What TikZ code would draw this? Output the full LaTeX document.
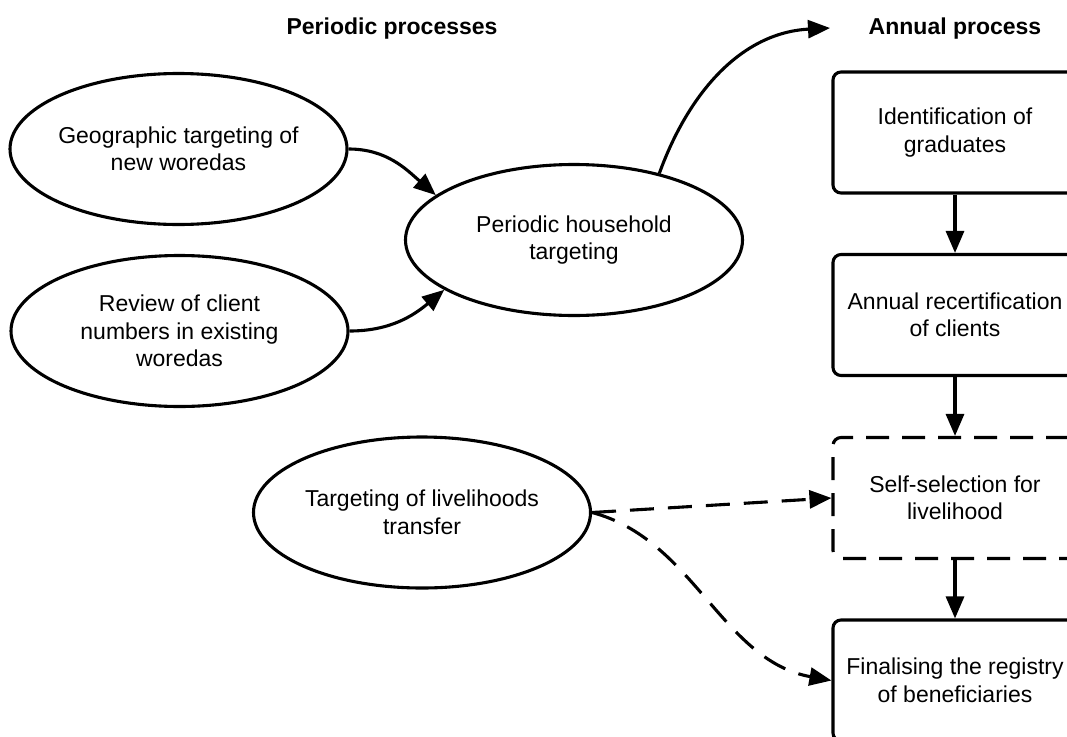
\documentclass[tikz,border=0pt]{standalone}
\usepackage{fontspec}
\setmainfont{Liberation Sans}
\usetikzlibrary{shapes.geometric,arrows.meta}
\begin{document}
\begin{tikzpicture}[x=1pt,y=1pt,
  every node/.style={font=\fontsize{23}{27.5}\selectfont},
  lw/.style={line width=3.1pt},
  oval/.style={ellipse, draw, lw, minimum width=337pt, minimum height=151pt, inner sep=0pt},
  caption/.style={align=center},
  stepbox/.style={rectangle, draw, lw, rounded corners=8pt, minimum width=244pt,
    minimum height=121pt, align=center, inner sep=0pt},
  dashbox/.style={stepbox, dash pattern=on 23pt off 13pt},
  heading/.style={font=\fontsize{23}{27.5}\selectfont\bfseries, anchor=base},
  link/.style={lw, -{Triangle[length=22pt,width=18pt]}},
  dlink/.style={link, dash pattern=on 24pt off 14pt}
]
\useasboundingbox (0,0) rectangle (1067,-736);
\clip (0,0) rectangle (1067,-736);

% column headings
\node[heading] (hp) at (392,-34) {Periodic processes};
\node[heading] (ha) at (955,-34) {Annual process};

% periodic processes
\node[oval, label={[caption]center:{Geographic targeting of\\new woredas}}] (geo) at (178.5,-149) {};
\node[oval, label={[caption]center:{Review of client\\numbers in existing\\woredas}}] (rev) at (179.5,-331) {};
\node[oval, label={[caption]center:{Periodic household\\targeting}}] (ph) at (574,-240) {};
\node[oval, label={[caption]center:{Targeting of livelihoods\\transfer}}] (tl) at (422,-512.5) {};

% annual process
\node[stepbox] (idg) at (955,-132.5) {Identification of\\graduates};
\node[stepbox] (rec) at (955,-315) {Annual recertification\\of clients};
\node[dashbox] (self) at (955,-498) {Self-selection for\\livelihood};
\node[stepbox] (fin) at (955,-680.5) {Finalising the registry\\of beneficiaries};

\coordinate (annual) at (830,-28);

% connectors
\draw[link] (geo.east) to[out=0,in=139] (ph.162);
\draw[link] (rev.east) to[out=0,in=220] (ph.201);
\draw[link] (ph.38) to[out=70,in=183] (annual);

\draw[link] (idg.south) -- (rec.north);
\draw[link] (rec.south) -- (self.north);
\draw[link] (self.south) -- (fin.north);

\draw[dlink] (tl.east) -- (self.west);
\draw[dlink] (tl.east) .. controls +(102,-27) and +(-110,20) .. (fin.west);
\end{tikzpicture}
\end{document}
